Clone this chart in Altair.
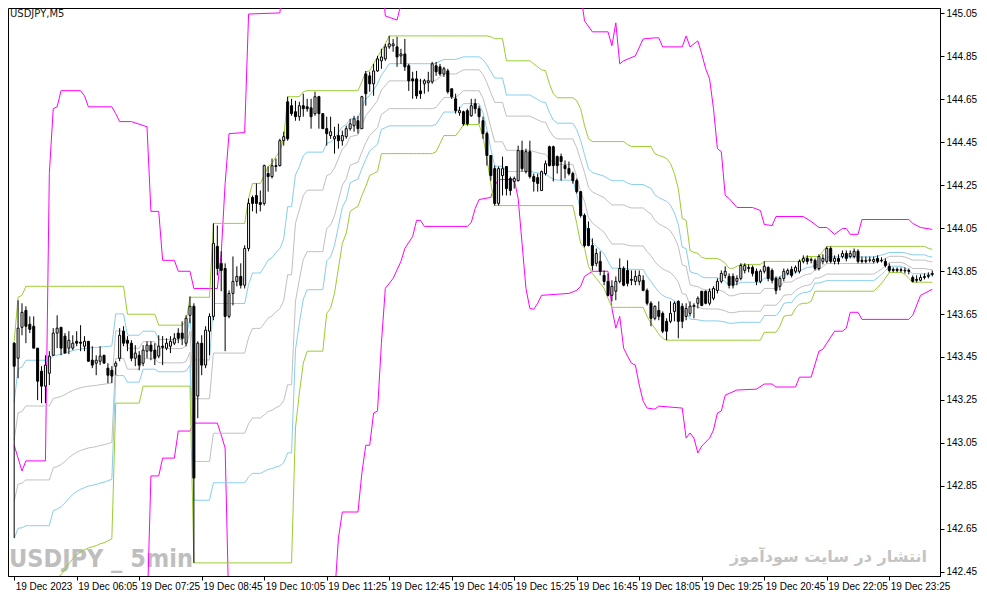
import altair as alt
import pandas as pd

N_BARS = 236

OPEN = [
 143.514,143.444,143.588,143.667,143.602,143.593,143.491,143.384,143.314,143.374,
 143.458,143.561,143.588,143.547,143.491,143.491,143.523,143.519,143.500,143.523,
 143.435,143.421,143.430,143.458,143.398,143.388,143.407,143.444,143.570,143.528,
 143.514,143.444,143.458,143.421,143.477,143.505,143.482,143.454,143.500,143.491,
 143.500,143.514,143.561,143.561,143.514,143.644,143.686,143.268,143.514,143.412,
 143.570,143.639,143.965,143.886,143.862,143.639,143.746,143.802,143.825,143.784,
 143.955,144.193,144.202,144.169,144.165,144.304,144.290,144.341,144.341,144.457,
 144.638,144.620,144.592,144.569,144.620,144.615,144.610,144.583,144.662,144.583,
 144.513,144.481,144.466,144.481,144.457,144.476,144.513,144.527,144.550,144.513,
 144.768,144.759,144.722,144.782,144.829,144.838,144.894,144.899,144.894,144.852,
 144.861,144.806,144.745,144.745,144.689,144.722,144.727,144.731,144.806,144.801,
 144.768,144.782,144.699,144.652,144.587,144.592,144.597,144.573,144.629,144.606,
 144.550,144.490,144.388,144.327,144.165,144.295,144.337,144.281,144.267,144.271,
 144.411,144.313,144.406,144.290,144.285,144.225,144.304,144.429,144.429,144.383,
 144.383,144.341,144.327,144.304,144.271,144.220,144.109,144.048,143.969,143.886,
 143.895,143.830,143.802,143.737,143.756,143.802,143.862,143.853,143.811,143.802,
 143.802,143.807,143.760,143.700,143.630,143.667,143.653,143.616,143.616,143.662,
 143.709,143.686,143.639,143.653,143.686,143.700,143.756,143.756,143.700,143.723,
 143.760,143.802,143.830,143.825,143.825,143.802,143.816,143.853,143.862,143.867,
 143.849,143.802,143.849,143.867,143.853,143.816,143.779,143.816,143.839,143.858,
 143.849,143.849,143.895,143.909,143.900,143.900,143.862,143.895,143.895,143.955,
 143.895,143.909,143.918,143.932,143.918,143.918,143.942,143.900,143.895,143.900,
 143.895,143.909,143.900,143.895,143.872,143.858,143.858,143.856,143.853,143.853,
 143.820,143.811,143.807,143.820,143.825,143.834]

HIGH = [
 143.520,143.714,143.700,143.686,143.639,143.639,143.491,143.407,143.458,143.477,
 143.584,143.644,143.588,143.561,143.570,143.551,143.570,143.598,143.547,143.523,
 143.500,143.458,143.500,143.458,143.421,143.407,143.430,143.584,143.593,143.547,
 143.528,143.505,143.477,143.505,143.523,143.523,143.514,143.551,143.547,143.537,
 143.547,143.561,143.584,143.616,143.644,143.732,143.700,143.523,143.551,143.593,
 143.653,144.072,144.062,143.942,143.886,143.760,143.918,143.872,143.886,143.970,
 144.188,144.202,144.258,144.225,144.346,144.337,144.374,144.374,144.466,144.499,
 144.662,144.652,144.643,144.638,144.676,144.652,144.652,144.685,144.666,144.583,
 144.569,144.569,144.522,144.536,144.504,144.527,144.559,144.573,144.573,144.666,
 144.782,144.778,144.815,144.852,144.885,144.908,144.945,144.931,144.941,144.885,
 144.931,144.815,144.778,144.782,144.745,144.745,144.778,144.824,144.824,144.815,
 144.801,144.792,144.699,144.676,144.615,144.597,144.606,144.652,144.652,144.620,
 144.569,144.499,144.388,144.341,144.337,144.383,144.337,144.290,144.290,144.434,
 144.457,144.420,144.457,144.304,144.304,144.318,144.365,144.434,144.434,144.388,
 144.397,144.365,144.360,144.313,144.281,144.220,144.118,144.081,144.002,143.955,
 143.942,143.853,143.839,143.807,143.825,143.909,143.872,143.900,143.853,143.853,
 143.853,143.830,143.769,143.709,143.690,143.709,143.662,143.630,143.709,143.709,
 143.714,143.700,143.700,143.709,143.700,143.732,143.756,143.760,143.769,143.779,
 143.816,143.853,143.872,143.839,143.839,143.830,143.886,143.886,143.881,143.876,
 143.862,143.858,143.895,143.872,143.862,143.825,143.825,143.862,143.862,143.872,
 143.876,143.904,143.923,143.923,143.914,143.909,143.928,143.928,143.965,143.965,
 143.923,143.928,143.946,143.946,143.946,143.955,143.951,143.918,143.918,143.918,
 143.918,143.923,143.914,143.909,143.886,143.867,143.867,143.867,143.867,143.862,
 143.830,143.830,143.834,143.839,143.844,143.853]

LOW = [
 142.607,143.351,143.551,143.514,143.561,143.491,143.249,143.235,143.235,143.319,
 143.454,143.491,143.458,143.468,143.463,143.482,143.500,143.477,143.477,143.430,
 143.398,143.365,143.412,143.421,143.328,143.328,143.365,143.430,143.500,143.477,
 143.430,143.407,143.388,143.407,143.444,143.435,143.412,143.444,143.412,143.482,
 143.468,143.505,143.514,143.505,143.500,143.607,142.491,143.165,143.365,143.398,
 143.458,143.621,143.830,143.756,143.477,143.630,143.690,143.779,143.769,143.769,
 143.942,144.128,144.118,144.128,144.155,144.220,144.281,144.313,144.337,144.434,
 144.457,144.573,144.550,144.550,144.569,144.592,144.513,144.573,144.513,144.513,
 144.434,144.466,144.397,144.420,144.434,144.466,144.504,144.499,144.490,144.513,
 144.620,144.685,144.666,144.778,144.792,144.829,144.885,144.871,144.801,144.815,
 144.782,144.689,144.652,144.652,144.652,144.676,144.685,144.722,144.759,144.759,
 144.754,144.676,144.652,144.583,144.573,144.527,144.527,144.569,144.583,144.536,
 144.466,144.341,144.271,144.155,144.155,144.202,144.202,144.202,144.234,144.267,
 144.313,144.304,144.281,144.220,144.220,144.225,144.295,144.337,144.267,144.304,
 144.271,144.281,144.295,144.257,144.211,144.099,143.960,143.965,143.853,143.872,
 143.830,143.784,143.732,143.709,143.714,143.793,143.779,143.779,143.784,143.784,
 143.784,143.756,143.690,143.593,143.621,143.621,143.561,143.528,143.607,143.616,
 143.537,143.584,143.621,143.639,143.630,143.676,143.686,143.695,143.690,143.714,
 143.746,143.793,143.816,143.769,143.769,143.784,143.807,143.839,143.844,143.825,
 143.784,143.793,143.839,143.802,143.793,143.742,143.760,143.802,143.830,143.820,
 143.839,143.839,143.886,143.881,143.886,143.853,143.853,143.881,143.886,143.886,
 143.881,143.881,143.909,143.895,143.909,143.909,143.886,143.886,143.886,143.890,
 143.886,143.886,143.890,143.867,143.844,143.844,143.844,143.844,143.839,143.835,
 143.797,143.797,143.802,143.811,143.816,143.825]

CLOSE = [
 143.407,143.584,143.658,143.593,143.579,143.491,143.337,143.314,143.412,143.454,
 143.561,143.584,143.491,143.468,143.528,143.514,143.514,143.514,143.523,143.430,
 143.412,143.435,143.454,143.421,143.365,143.361,143.421,143.551,143.514,143.514,
 143.444,143.468,143.412,143.482,143.505,143.477,143.444,143.500,143.495,143.514,
 143.523,143.537,143.537,143.537,143.630,143.686,142.886,143.514,143.412,143.575,
 143.639,143.979,143.862,143.853,143.639,143.746,143.802,143.825,143.784,143.955,
 144.165,144.165,144.165,144.160,144.341,144.290,144.341,144.337,144.457,144.476,
 144.466,144.583,144.569,144.620,144.606,144.606,144.569,144.662,144.583,144.513,
 144.490,144.499,144.476,144.457,144.481,144.513,144.536,144.559,144.513,144.662,
 144.676,144.722,144.782,144.838,144.847,144.894,144.908,144.908,144.847,144.861,
 144.801,144.736,144.736,144.666,144.676,144.736,144.736,144.815,144.778,144.768,
 144.792,144.685,144.662,144.597,144.597,144.536,144.536,144.620,144.606,144.569,
 144.490,144.388,144.295,144.165,144.327,144.327,144.234,144.225,144.281,144.411,
 144.327,144.406,144.290,144.267,144.258,144.313,144.350,144.341,144.341,144.341,
 144.360,144.327,144.304,144.271,144.220,144.109,143.969,143.969,143.876,143.932,
 143.849,143.802,143.737,143.779,143.802,143.862,143.784,143.793,143.807,143.825,
 143.830,143.760,143.700,143.630,143.686,143.639,143.570,143.570,143.653,143.700,
 143.616,143.616,143.676,143.686,143.690,143.723,143.690,143.700,143.756,143.769,
 143.802,143.839,143.849,143.784,143.784,143.816,143.876,143.876,143.867,143.839,
 143.802,143.849,143.872,143.816,143.807,143.760,143.816,143.849,143.853,143.830,
 143.867,143.895,143.909,143.895,143.904,143.862,143.918,143.909,143.955,143.895,
 143.909,143.895,143.932,143.909,143.932,143.942,143.895,143.895,143.900,143.902,
 143.904,143.895,143.898,143.876,143.853,143.853,143.853,143.853,143.851,143.849,
 143.802,143.807,143.820,143.825,143.830,143.839]

# Price channel (highest high / lowest low), as (price, number of bars) runs
CHANNEL_UP_RUNS = [
 (143.523,1),(143.728,1),(143.737,1),(143.779,26),(143.649,8),(143.598,7),(143.616,1),
 (143.728,6),(144.072,9),(144.188,1),(144.258,3),(144.295,1),(144.337,1),(144.351,1),
 (144.383,1),(144.406,1),(144.467,1),(144.662,4),(144.685,1),(144.690,14),(144.732,1),
 (144.778,1),(144.783,1),(144.815,1),(144.848,1),(144.876,1),(144.908,1),(144.945,26),
 (144.941,1),(144.932,3),(144.829,7),(144.815,1),(144.801,1),(144.787,1),(144.783,1),
 (144.722,1),(144.676,1),(144.657,5),(144.643,1),(144.606,1),(144.527,1),(144.467,1),
 (144.453,9),(144.439,1),(144.430,6),(144.397,1),(144.388,1),(144.383,1),(144.374,1),
 (144.351,1),(144.304,1),(144.234,1),(144.095,1),(144.086,1),(143.946,1),(143.937,1),
 (143.932,1),(143.914,1),(143.909,4),(143.900,1),(143.886,1),(143.863,2),(143.872,1),
 (143.881,6),(143.895,10),(143.909,1),(143.918,4),(143.942,1),(143.965,26),(143.956,1),
 (143.951,1)]

CHANNEL_DN_RUNS = [
 (142.320,10),(142.412,1),(142.421,1),(142.436,1),(142.459,1),(142.487,1),(142.510,1),
 (142.528,1),(142.542,1),(142.552,1),(142.561,1),(142.566,1),(142.571,1),(142.580,1),
 (142.585,1),(142.594,1),(142.603,1),(143.235,7),(143.314,13),(142.491,26),(143.119,1),
 (143.282,1),(143.421,1),(143.477,5),(143.653,1),(143.677,1),(143.747,1),(143.863,1),
 (143.979,1),(144.025,1),(144.128,1),(144.141,1),(144.151,1),(144.202,1),(144.244,1),
 (144.295,1),(144.304,1),(144.314,1),(144.397,14),(144.406,1),(144.444,1),(144.481,4),
 (144.504,1),(144.532,5),(144.476,1),(144.374,1),(144.258,1),(144.155,21),(144.072,1),
 (143.979,1),(143.956,1),(143.872,1),(143.839,1),(143.816,1),(143.793,1),(143.770,1),
 (143.723,1),(143.681,9),(143.639,1),(143.607,1),(143.584,1),(143.556,1),(143.537,1),
 (143.528,25),(143.565,4),(143.593,1),(143.639,1),(143.644,2),(143.677,1),(143.695,1),
 (143.700,2),(143.709,1),(143.756,16),(143.774,1),(143.793,1),(143.816,1),(143.844,4),
 (143.835,1),(143.816,1),(143.798,6)]

FIB_LEVELS = [0.236, 0.382, 0.618, 0.764]
FIB_COLORS = ["#87CEEB", "#C0C0C0", "#C0C0C0", "#87CEEB"]

# Magenta envelope lines: (bar, price) vertices
MAGENTA_A = [
 (0,143.039),(2,142.919),(3,142.966),(8,142.966),(9,144.304),(10,144.606),(11,144.615),
 (12,144.690),(17,144.690),(18,144.666),(19,144.615),(25,144.615),(26,144.583),(27,144.546),
 (30,144.546),(34,144.522),(35,144.128),(37,144.128),(38,143.900),(41,143.900),(42,143.849),
 (45,143.849),(46,143.769),(52,143.769),(53,143.932),(54,144.258),(55,144.490),(59,144.495),
 (60,145.047),(68,145.052),(69,145.210),(94,145.250),(95,145.038),(98,145.019),(99,145.094),
 (101,145.098),(102,145.200),(144,145.250),(145,145.140),(146,145.015),(148,144.964),
 (152,144.964),(153,144.899),(154,145.006),(155,144.815),(156,144.829),(159,144.852),
 (161,144.931),(164,144.936),(165,144.936),(166,144.894),(171,144.894),(172,144.945),
 (173,144.894),(175,144.922),(176,144.861),(177,144.792),(178,144.745),(179,144.606),
 (180,144.420),(181,144.406),(182,144.202),(183,144.188),(185,144.146),(189,144.146),
 (191,144.132),(192,144.067),(194,144.062),(195,144.104),(202,144.104),(204,144.081),
 (206,144.053),(208,144.053),(210,144.021),(212,144.048),(213,144.048),(214,144.021),
 (216,144.021),(217,144.090),(229,144.090),(230,144.072),(232,144.053),(235,144.044)]

MAGENTA_B = [
 (34,142.236),(35,142.896),(37,142.896),(38,142.979),(41,142.979),(42,143.105),(45,143.105),
 (46,143.142),(52,143.142),(53,143.086),(54,143.026),(55,142.236),(81,142.236),(82,142.330),
 (83,142.607),(84,142.728),(88,142.728),(89,142.910),(90,143.039),(91,143.039),(92,143.189),
 (93,143.198),(94,143.514),(95,143.769),(97,143.816),(99,143.895),(100,143.955),(102,144.011),
 (103,144.086),(104,144.086),(105,144.058),(116,144.058),(117,144.076),(118,144.141),
 (119,144.183),(122,144.193),(123,144.248),(124,144.276),(128,144.276),(129,144.188),
 (130,143.979),(131,143.769),(132,143.676),(133,143.672),(134,143.700),(135,143.737),
 (142,143.746),(144,143.760),(145,143.779),(146,143.825),(148,143.849),(152,143.849),
 (153,143.676),(154,143.584),(155,143.639),(156,143.491),(157,143.454),(158,143.421),
 (159,143.412),(160,143.319),(161,143.244),(162,143.212),(164,143.207),(165,143.221),
 (171,143.212),(172,143.072),(173,143.096),(174,143.072),(175,143.003),(176,143.035),
 (178,143.072),(179,143.110),(180,143.189),(181,143.198),(182,143.272),(185,143.296),
 (190,143.300),(192,143.324),(194,143.324),(195,143.310),(200,143.310),(201,143.356),
 (204,143.356),(206,143.477),(207,143.486),(210,143.570),(212,143.570),(213,143.584),
 (214,143.658),(216,143.658),(217,143.625),(229,143.625),(230,143.644),(232,143.737),
 (235,143.765)]

X_TICK_BARS = [0, 16, 32, 48, 64, 80, 96, 112, 128, 144, 160, 176, 192, 208, 224]
X_TICK_LABELS = ["19 Dec 2023", "19 Dec 06:05", "19 Dec 07:25", "19 Dec 08:45",
                 "19 Dec 10:05", "19 Dec 11:25", "19 Dec 12:45", "19 Dec 14:05",
                 "19 Dec 15:25", "19 Dec 16:45", "19 Dec 18:05", "19 Dec 19:25",
                 "19 Dec 20:45", "19 Dec 22:05", "19 Dec 23:25"]
Y_TICKS = [142.45, 142.65, 142.85, 143.05, 143.25, 143.45, 143.65, 143.85,
           144.05, 144.25, 144.45, 144.65, 144.85, 145.05]

SYMBOL_TEXT = "USDJPY,M5"
WATERMARK_TEXT = "USDJPY _ 5min"
SITE_TEXT = "انتشار در سایت سودآموز"


def expand(runs, n):
    vals = []
    for price, count in runs:
        vals.extend([price] * count)
    vals = (vals + [vals[-1]] * n)[:n]
    return vals


bars = list(range(N_BARS))
candles = pd.DataFrame({"bar": bars, "open": OPEN, "high": HIGH, "low": LOW, "close": CLOSE})
channel = pd.DataFrame({"bar": bars,
                        "up": expand(CHANNEL_UP_RUNS, N_BARS),
                        "dn": expand(CHANNEL_DN_RUNS, N_BARS)})
mag_a = pd.DataFrame(MAGENTA_A, columns=["bar", "price"])
mag_b = pd.DataFrame(MAGENTA_B, columns=["bar", "price"])

W, H = 932, 568
xs = alt.Scale(domain=[-0.3, 235.7], nice=False, zero=False)
ys = alt.Scale(domain=[142.43, 145.075], nice=False, zero=False)

label_arr = "[" + ",".join("'" + s + "'" for s in X_TICK_LABELS) + "]"
bar_arr = "[" + ",".join(str(b) for b in X_TICK_BARS) + "]"
x_axis = alt.Axis(values=X_TICK_BARS, labelExpr=f"{label_arr}[indexof({bar_arr}, datum.value)]",
                  labelAlign="left", labelOffset=1, labelPadding=1, tickSize=4, labelFlush=False,
                  labelOverlap=False, labelFont="Liberation Sans", labelFontSize=10,
                  labelColor="black", domainColor="black", tickColor="black", grid=False)
y_axis = alt.Axis(orient="right", values=Y_TICKS, format=".2f", labelAlign="left",
                  labelPadding=2, tickSize=4, labelOverlap=False, labelFlush=False,
                  labelFont="Liberation Sans", labelFontSize=10, labelColor="black",
                  domainColor="black", tickColor="black", grid=False)


def X():
    return alt.X("bar:Q", scale=xs, axis=x_axis, title=None)


def Y(field):
    return alt.Y(f"{field}:Q", scale=ys, axis=y_axis, title=None)


layers = []
layers.append(alt.Chart(pd.DataFrame({"t": [WATERMARK_TEXT]})).mark_text(
    align="left", baseline="alphabetic", font="Liberation Sans Narrow, DejaVu Sans Condensed, sans-serif",
    fontSize=25, fontWeight="bold", color="#BEBEBE").encode(
    text="t:N", x=alt.value(1), y=alt.value(H - 9)))
layers.append(alt.Chart(pd.DataFrame({"t": [SITE_TEXT]})).mark_text(
    align="right", baseline="alphabetic", font="DejaVu Sans", fontSize=16, fontWeight="bold",
    color="#C4C4C4").encode(text="t:N", x=alt.value(W - 13), y=alt.value(H - 14)))

for df in (mag_a, mag_b):
    layers.append(alt.Chart(df).mark_line(color="#FF00FF", strokeWidth=1, clip=True).encode(
        x=X(), y=Y("price")))

for r, c in zip(FIB_LEVELS, FIB_COLORS):
    layers.append(alt.Chart(channel).transform_calculate(
        lvl=f"datum.up - {r} * (datum.up - datum.dn)").mark_line(
        color=c, strokeWidth=1, clip=True).encode(x=X(), y=Y("lvl")))

for f in ("up", "dn"):
    layers.append(alt.Chart(channel).mark_line(color="#9ACD32", strokeWidth=1, clip=True).encode(
        x=X(), y=Y(f)))

layers.append(alt.Chart(candles).mark_rule(color="black", strokeWidth=1, clip=True).encode(
    x=X(), y=Y("low"), y2="high:Q"))
layers.append(alt.Chart(candles).mark_bar(size=2, stroke="black", strokeWidth=1, clip=True).encode(
    x=X(), y=Y("open"), y2="close:Q",
    fill=alt.condition("datum.close > datum.open", alt.value("white"), alt.value("black"))))

layers.append(alt.Chart(pd.DataFrame({"t": [SYMBOL_TEXT]})).mark_text(
    align="left", baseline="alphabetic", font="DejaVu Sans", fontSize=10, color="#202020").encode(
    text="t:N", x=alt.value(2), y=alt.value(9)))

chart = alt.layer(*layers).properties(width=W, height=H, padding=0, background="white").configure_view(
    stroke="black", strokeWidth=1)

chart.save("out.html", embed_options={"renderer": "svg", "actions": False})
